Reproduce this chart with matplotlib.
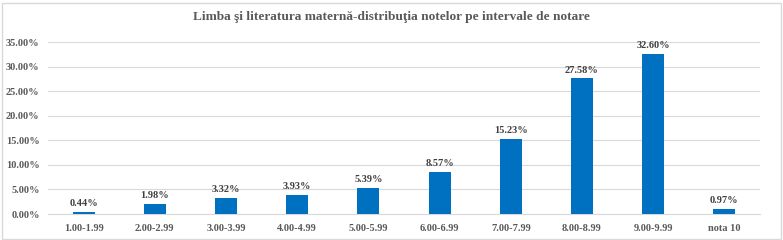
import matplotlib
matplotlib.use("Agg")
import matplotlib.pyplot as plt
from matplotlib.patches import Rectangle
from matplotlib.ticker import FuncFormatter

categories = ["1.00-1.99", "2.00-2.99", "3.00-3.99", "4.00-4.99", "5.00-5.99",
              "6.00-6.99", "7.00-7.99", "8.00-8.99", "9.00-9.99", "nota 10"]
values = [0.44, 1.98, 3.32, 3.93, 5.39, 8.57, 15.23, 27.58, 32.60, 0.97]
title = "Limba şi literatura maternă-distribuţia notelor pe intervale de notare"

plt.rcParams['font.family'] = ['Liberation Serif', 'DejaVu Serif']

fig = plt.figure(figsize=(7.83, 2.40), dpi=100)
ax = fig.add_axes([48/783, 1-214/240, (760-48)/783, (214-42)/240])

x = list(range(len(categories)))
ax.bar(x, values, width=0.31, color="#0070C0", zorder=3)
for xi, v in zip(x, values):
    ax.text(xi, v + 0.8, f"{v:.2f}%", ha="center", va="bottom", fontsize=7.5,
            fontweight="bold", color="#404040")

ax.set_xlim(-0.5, len(categories) - 0.5)
ax.set_ylim(0, 35)
ax.set_yticks([0, 5, 10, 15, 20, 25, 30, 35])
ax.yaxis.set_major_formatter(FuncFormatter(lambda v, p: f"{v:.2f}%"))
ax.set_xticks(x)
ax.set_xticklabels(categories)
ax.tick_params(axis="both", length=0, labelsize=7.5, labelcolor="#595959")
ax.tick_params(axis="x", pad=7)
ax.tick_params(axis="y", pad=6)
for lab in ax.get_xticklabels() + ax.get_yticklabels():
    lab.set_fontweight("bold")
ax.grid(axis="y", color="#D9D9D9", linewidth=0.8, zorder=0)
for s in ["top", "right", "left"]:
    ax.spines[s].set_visible(False)
ax.spines["bottom"].set_color("#D9D9D9")
ax.spines["bottom"].set_linewidth(0.8)

fig.text(0.5, 1 - 17/240, title, ha="center", va="center", fontsize=9.6,
         fontweight="bold", color="#595959")

fig.patches.append(Rectangle((1.5/783, 1.5/240), 779/783, 236/240, transform=fig.transFigure,
                             fill=False, edgecolor="#D9D9D9", linewidth=1))

fig.savefig("out.png", dpi=100)
